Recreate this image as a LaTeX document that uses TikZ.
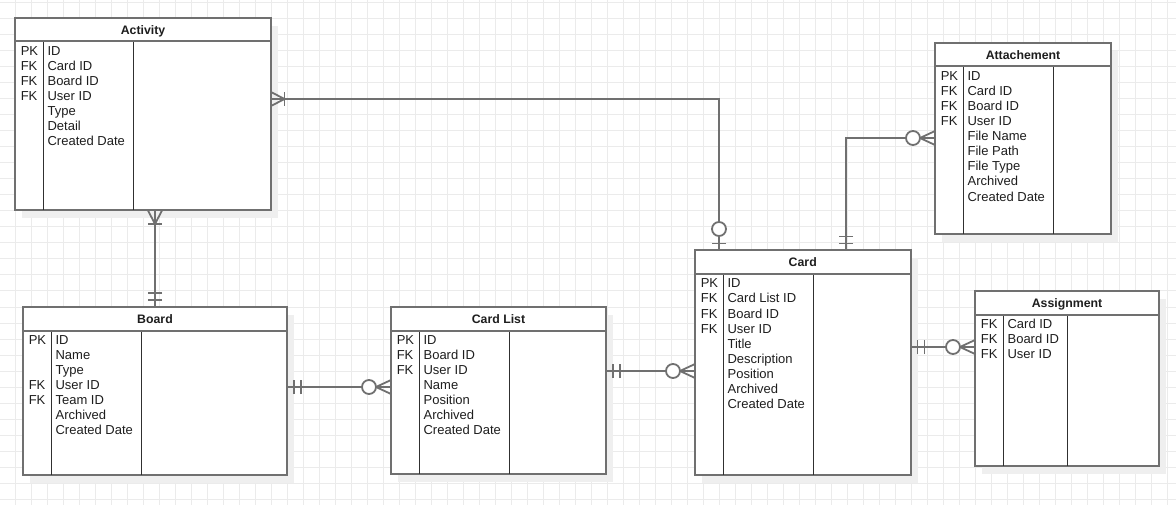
\documentclass[tikz,border=0pt]{standalone}
\usepackage{fontspec}
\setmainfont{Liberation Sans}
\definecolor{bordc}{HTML}{707070}
\definecolor{gridc}{HTML}{EBEBEB}
\definecolor{shadc}{HTML}{EFEFEF}
\definecolor{txtc}{HTML}{1E1E1E}
\definecolor{divc}{HTML}{303030}
\tikzset{
  entbox/.style={draw=bordc, line width=2pt, fill=white, rectangle, inner sep=0pt, outer sep=0pt},
  hdrline/.style={draw=bordc, line width=2pt},
  divline/.style={draw=divc, line width=1pt},
  enttitle/.style={inner sep=0pt, text=txtc, font=\bfseries\fontsize{12.3}{14}\selectfont},
  fld/.style={inner sep=0pt, text=txtc, font=\fontsize{13}{15}\selectfont},
  conn/.style={draw=bordc, line width=1.8pt},
}
% #1 name, #2 L, #3 T, #4 R, #5 B, #6 second divider offset, #7 title, #8 keys, #9 fields
\newcommand\erentity[9]{%
  \pgfmathsetmacro\ew{#4-#2}\pgfmathsetmacro\eh{#5-#3}%
  \fill[shadc] (#2+7,#3+8) rectangle (#4+7,#5+8);
  \node[entbox, minimum width=\ew pt, minimum height=\eh pt, anchor=north west] (#1) at (#2,#3) {};
  \draw[divline] (#2+28,#3+23.5) -- (#2+28,#5);
  \draw[divline] (#2+#6,#3+23.5) -- (#2+#6,#5);
  \draw[hdrline] (#2,#3+23.5) -- (#4,#3+23.5);
  \node[enttitle, anchor=base] (#1-title) at ({(#2+#4)/2},#3+16.5) {#7};
  \foreach \k [count=\i] in {#8} \node[fld, anchor=base west] at (#2+5.6,{#3+37.3+(\i-1)*15.1}) {\k};
  \foreach \f [count=\i] in {#9} \node[fld, anchor=base west] at (#2+32.4,{#3+37.3+(\i-1)*15.1}) {\f};
}
\newcommand\mkOneMany[2]{\begin{scope}[shift={(#1)},rotate=#2]
  \draw[conn] (0,7) -- (13.5,0) -- (0,-7);
  \draw[conn] (13.5,7) -- (13.5,-7);
\end{scope}}
\newcommand\mkMandOne[2]{\begin{scope}[shift={(#1)},rotate=#2]
  \draw[conn] (7,7) -- (7,-7);
  \draw[conn] (14,7) -- (14,-7);
\end{scope}}
\newcommand\mkZeroMany[2]{\begin{scope}[shift={(#1)},rotate=#2]
  \draw[conn] (0,7) -- (15,0) -- (0,-7);
  \draw[conn, fill=white] (22,0) circle[radius=7pt];
\end{scope}}
\newcommand\mkZeroOne[2]{\begin{scope}[shift={(#1)},rotate=#2]
  \draw[conn] (7,7) -- (7,-7);
  \draw[conn, fill=white] (21.5,0) circle[radius=7pt];
\end{scope}}
\begin{document}
\begin{tikzpicture}[x=1pt,y=-1pt]
\useasboundingbox (0,0) rectangle (1176,505);
\fill[white] (0,0) rectangle (1176,505);
\foreach \gx in {15,31,...,1175} \draw[gridc, line width=1pt] (\gx,0) -- (\gx,505);
\foreach \gy in {3,19,...,503} \draw[gridc, line width=1pt] (0,\gy) -- (1176,\gy);

\erentity{act}{15}{18}{271}{210.5}{118}{Activity}{PK,FK,FK,FK}{ID,Card ID,Board ID,User ID,Type,Detail,Created Date}
\erentity{att}{935}{43}{1111}{234}{118}{Attachement}{PK,FK,FK,FK}{ID,Card ID,Board ID,User ID,File Name,File Path,File Type,Archived,Created Date}
\erentity{card}{695}{250.5}{910.5}{474.5}{118}{Card}{PK,FK,FK,FK}{ID,Card List ID,Board ID,User ID,Title,Description,Position,Archived,Created Date}
\erentity{asg}{975}{291}{1159}{466}{92}{Assignment}{FK,FK,FK}{Card ID,Board ID,User ID}
\erentity{board}{23}{307}{287}{475}{118}{Board}{PK,{},{},FK,FK}{ID,Name,Type,User ID,Team ID,Archived,Created Date}
\erentity{cl}{391}{307}{606}{474}{118.5}{Card List}{PK,FK,FK}{ID,Board ID,User ID,Name,Position,Archived,Created Date}

\path (act.south west) ++(140,0) coordinate (p1);
\path (board.north west) ++(132,0) coordinate (q1);
\path (act.north east) ++(0,81) coordinate (p2);
\path (card.north west) ++(24,0) coordinate (q2);
\path (card.north west) ++(151,0) coordinate (p3);
\path (att.north west) ++(0,95) coordinate (q3);
\path (board.north east) ++(0,80) coordinate (p4);
\path (cl.north west) ++(0,80) coordinate (q4);
\path (cl.north east) ++(0,64) coordinate (p5);
\path (card.north west) ++(0,120.5) coordinate (q5);
\path (card.north east) ++(0,96.5) coordinate (p6);
\path (asg.north west) ++(0,56) coordinate (q6);

\draw[conn] (p1) -- (q1);
\draw[conn] (p2) -| (q2);
\draw[conn] (p3) |- (q3);
\draw[conn] (p4) -- (q4);
\draw[conn] (p5) -- (q5);
\draw[conn] (p6) -- (q6);

\mkOneMany{p1}{-90}
\mkMandOne{q1}{90}
\mkOneMany{p2}{0}
\mkZeroOne{q2}{90}
\mkMandOne{p3}{90}
\mkZeroMany{q3}{180}
\mkMandOne{p4}{0}
\mkZeroMany{q4}{180}
\mkMandOne{p5}{0}
\mkZeroMany{q5}{180}
\mkMandOne{p6}{0}
\mkZeroMany{q6}{180}
\end{tikzpicture}
\end{document}
